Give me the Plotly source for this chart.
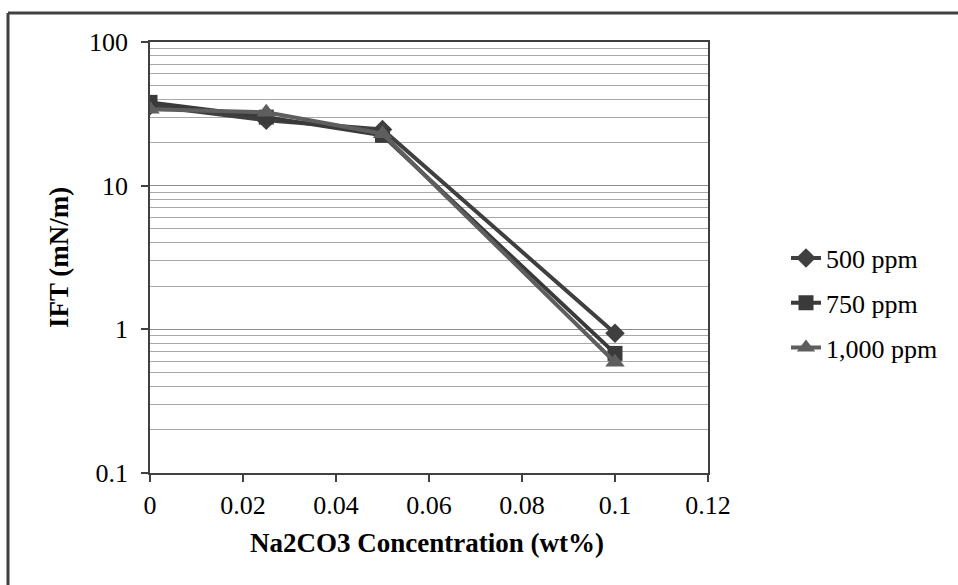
import plotly.graph_objects as go

conc = [0, 0.025, 0.05, 0.1]
ift_500 = [36, 28.5, 24.6, 0.94]
ift_750 = [38, 30, 22.4, 0.68]
ift_1000 = [34, 32.4, 23, 0.59]
series_names = ["500 ppm", "750 ppm", "1,000 ppm"]
y_tickvals = [0.1, 1, 10, 100]
y_ticktext = ["0.1", "1", "10", "100"]
minor_vals = [m * 10 ** k for k in (-1, 0, 1) for m in range(2, 10)]
x_title = "<b>Na2CO3 Concentration (wt%)</b>"
y_title = "<b>IFT (mN/m)</b>"

FONT = "Liberation Serif, Times New Roman, serif"
W, H = 958, 585
L, R, T, B = 150, 250, 42, 112
pw, ph = W - L - R, H - T - B

fig = go.Figure()
styles = [
    (ift_500, "#3f3f3f", "diamond", 15),
    (ift_750, "#3a3a3a", "square", 15),
    (ift_1000, "#5e5e5e", "triangle-up", 17),
]
for i, (vals, col, sym, sz) in enumerate(styles):
    fig.add_trace(go.Scatter(
        x=conc, y=vals, name=series_names[i], mode="lines+markers",
        line=dict(color=col, width=4),
        marker=dict(symbol=sym, size=sz, color=col),
        legendgroup=f"g{i}",
    ))

def px(x):
    return (x - L) / pw

def py(y):
    return (H - B - y) / ph

fig.update_layout(
    width=W, height=H,
    margin=dict(l=L, r=R, t=T, b=B),
    paper_bgcolor="white", plot_bgcolor="white",
    font=dict(family=FONT, size=26, color="black"),
    showlegend=True,
    legend=dict(x=px(786), y=py(303), xanchor="left", yanchor="middle",
                font=dict(family=FONT, size=26, color="black"),
                tracegroupgap=8, traceorder="grouped",
                bgcolor="rgba(0,0,0,0)"),
    xaxis=dict(
        range=[0, 0.12], dtick=0.02, tick0=0, tickformat="~g",
        showgrid=False, zeroline=False,
        showline=True, linecolor="#404040", linewidth=1.5, mirror=True,
        ticks="outside", ticklen=7, tickcolor="#404040", tickwidth=1.5,
        ticklabelstandoff=1,
        tickfont=dict(family=FONT, size=26),
    ),
    yaxis=dict(
        type="log", range=[-1, 2],
        tickvals=y_tickvals, ticktext=y_ticktext,
        showgrid=True, gridcolor="#8c8c8c", gridwidth=1,
        minor=dict(tickvals=minor_vals, showgrid=True, gridcolor="#a8a8a8", gridwidth=1, ticks=""),
        zeroline=False,
        showline=True, linecolor="#404040", linewidth=1.5, mirror=True,
        ticks="outside", ticklen=7, tickcolor="#404040", tickwidth=1.5,
        ticklabelstandoff=8,
        tickfont=dict(family=FONT, size=26),
    ),
    annotations=[
        dict(text=x_title, xref="paper", yref="paper", x=px(427), y=py(543),
             xanchor="center", yanchor="middle", showarrow=False,
             font=dict(family=FONT, size=27, color="black")),
        dict(text=y_title, xref="paper", yref="paper", x=px(59), y=py(258),
             xanchor="center", yanchor="middle", showarrow=False, textangle=-90,
             font=dict(family=FONT, size=27, color="black")),
    ],
    shapes=[
        dict(type="line", xref="paper", yref="paper", x0=px(8), x1=px(965), y0=py(13), y1=py(13),
             line=dict(color="#404040", width=3)),
        dict(type="line", xref="paper", yref="paper", x0=px(8), x1=px(8), y0=py(13), y1=py(600),
             line=dict(color="#404040", width=3)),
    ],
)

fig.write_html("out.html")
